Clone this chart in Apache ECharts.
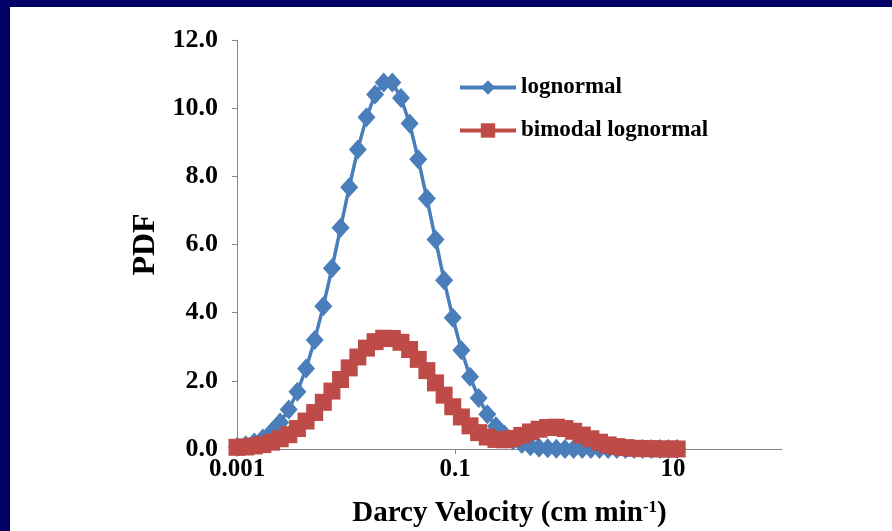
<!DOCTYPE html>
<html>
<head>
<meta charset="utf-8">
<script src="https://cdn.jsdelivr.net/npm/echarts@6/dist/echarts.min.js"></script>
<style>
  html, body { margin: 0; padding: 0; background: #000066; }
  #chart { position: absolute; left: 10px; top: 7px; width: 882px; height: 524px; background: #fff; }
</style>
</head>
<body>
<div id="chart"></div>
<script>
// Darcy velocity (cm/min), log-spaced
var velocity = [0.001, 0.0012, 0.00144, 0.001728, 0.002074, 0.002488, 0.002986, 0.003583, 0.0043, 0.00516,
  0.006192, 0.00743, 0.008916, 0.0107, 0.01284, 0.01541, 0.01849, 0.02219, 0.02662, 0.03195,
  0.03834, 0.046, 0.05521, 0.06625, 0.0795, 0.0954, 0.1145, 0.1374, 0.1648, 0.1978,
  0.2374, 0.2849, 0.3418, 0.4102, 0.4922, 0.5907, 0.7088, 0.8506, 1.021, 1.225,
  1.47, 1.764, 2.116, 2.54, 3.048, 3.657, 4.389, 5.266, 6.32, 7.584, 9.1, 10.92];

var lognormal = [0.06, 0.11, 0.19, 0.31, 0.5, 0.78, 1.16, 1.68, 2.36, 3.2,
  4.19, 5.3, 6.49, 7.68, 8.79, 9.73, 10.4, 10.75, 10.75, 10.3,
  9.55, 8.5, 7.35, 6.15, 4.95, 3.85, 2.9, 2.12, 1.5, 1.02,
  0.67, 0.42, 0.26, 0.15, 0.08, 0.04, 0.02, 0.01, 0, 0,
  0, 0, 0, 0, 0, 0, 0, 0, 0, 0, 0, 0];

var bimodal = [0.05, 0.06, 0.09, 0.13, 0.2, 0.3, 0.42, 0.6, 0.82, 1.07,
  1.37, 1.7, 2.04, 2.38, 2.7, 2.96, 3.15, 3.25, 3.24, 3.13,
  2.92, 2.63, 2.3, 1.94, 1.58, 1.24, 0.94, 0.68, 0.48, 0.35,
  0.28, 0.27, 0.31, 0.4, 0.5, 0.58, 0.63, 0.64, 0.6, 0.52,
  0.41, 0.3, 0.2, 0.12, 0.07, 0.04, 0.02, 0.01, 0.01, 0, 0, 0];

var xTicks = [0.001, 0.1, 10];

function pairs(ys) {
  return velocity.map(function (v, i) { return [v, ys[i]]; });
}

var font = "'Liberation Serif', 'Times New Roman', serif";
var chart = echarts.init(document.getElementById('chart'));
chart.setOption({
  animation: false,
  grid: { left: 227, right: 110, top: 33, bottom: 82, outerBoundsMode: 'none' },
  legend: {
    orient: 'vertical',
    left: 443,
    top: 64,
    itemWidth: 56,
    itemHeight: 18,
    itemGap: 20,
    lineStyle: { width: 4 },
    textStyle: { fontFamily: font, fontWeight: 'bold', fontSize: 23, color: '#000' },
    data: ['lognormal', 'bimodal lognormal']
  },
  xAxis: {
    type: 'log',
    logBase: 10,
    min: 0.001,
    max: 100,
    name: '{a|Darcy Velocity (cm min}{s|-1}{a|)}',
    nameLocation: 'middle',
    nameGap: 50,
    nameTextStyle: {
      rich: {
        a: { fontFamily: font, fontWeight: 'bold', fontSize: 29, color: '#000' },
        s: { fontFamily: font, fontWeight: 'bold', fontSize: 17, color: '#000', verticalAlign: 'top', padding: [0, 0, 13, 0] }
      }
    },
    axisLine: { lineStyle: { color: '#868686', width: 1 } },
    axisTick: { show: true, length: 5, lineStyle: { color: '#868686' }, customValues: xTicks },
    axisLabel: {
      customValues: xTicks,
      margin: 8,
      fontFamily: font, fontWeight: 'bold', fontSize: 25, color: '#000',
      formatter: function (v) { return String(v); }
    },
    splitLine: { show: false },
    minorTick: { show: false }
  },
  yAxis: {
    type: 'value',
    min: 0,
    max: 12,
    interval: 2,
    name: 'PDF',
    nameLocation: 'middle',
    nameGap: 71,
    nameTextStyle: { fontFamily: font, fontWeight: 'bold', fontSize: 32, color: '#000' },
    axisLine: { show: true, lineStyle: { color: '#868686', width: 1 } },
    axisTick: { show: true, length: 5, lineStyle: { color: '#868686' } },
    axisLabel: {
      margin: 19,
      fontFamily: font, fontWeight: 'bold', fontSize: 26, color: '#000',
      formatter: function (v) { return v.toFixed(1); }
    },
    splitLine: { show: false }
  },
  series: [
    {
      name: 'lognormal',
      type: 'line',
      data: pairs(lognormal),
      color: '#4a7ebb',
      lineStyle: { width: 3.5 },
      symbol: 'diamond',
      symbolSize: [18, 20],
      showAllSymbol: true
    },
    {
      name: 'bimodal lognormal',
      type: 'line',
      data: pairs(bimodal),
      color: '#be4b48',
      lineStyle: { width: 3.5 },
      symbol: 'rect',
      symbolSize: 17,
      showAllSymbol: true
    }
  ]
});
</script>
</body>
</html>
